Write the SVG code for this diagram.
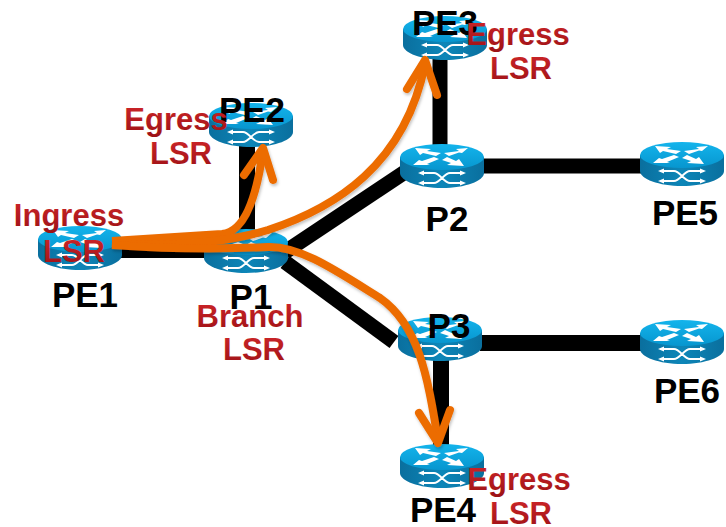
<svg xmlns="http://www.w3.org/2000/svg" width="726" height="527" viewBox="0 0 726 527">
<style>
text{font-family:"Liberation Sans",Arial,sans-serif;font-weight:700;text-anchor:middle}
.n{font-size:35px;fill:#000}
.r{font-size:31px;fill:url(#red)}
.link{stroke:#000;stroke-width:15;fill:none}
.lsp{stroke:#ec6c00;stroke-width:8;fill:none;stroke-linejoin:round}
.head{stroke-linecap:round}
.w{fill:none;stroke:#fff;stroke-width:1.8}
.wf{fill:#fff}
</style>
<defs>
<linearGradient id="red" x1="0" y1="0" x2="0" y2="1"><stop offset="0" stop-color="#d0262a"/><stop offset="1" stop-color="#9c1116"/></linearGradient>
<linearGradient id="side" x1="0" y1="0" x2="1" y2="0"><stop offset="0" stop-color="#0a6f9e"/><stop offset=".5" stop-color="#0d86b8"/><stop offset="1" stop-color="#0a6f9e"/></linearGradient>
<linearGradient id="top" x1="0" y1="0" x2="0" y2="1"><stop offset="0" stop-color="#14b4ec"/><stop offset="1" stop-color="#0796cf"/></linearGradient>
<filter id="sh" x="-10%" y="-10%" width="120%" height="120%"><feDropShadow dx="1" dy="2" stdDeviation="1.5" flood-color="#000" flood-opacity=".25"/></filter>
<g id="router">
<path d="M0,13V29C0,37 19,44 42,44S84,37 84,29V13Z" fill="url(#side)"/>
<ellipse cx="42" cy="13" rx="42" ry="13" fill="url(#top)"/>
<g class="wf">
<path d="M15,4L31,5L27,7L41,9L36,12L23,9L20,11Z"/>
<path d="M68,4L56,5L59,7L44,9L49,12L59,8.500L62,9Z"/>
<path d="M13,21L19,16L22,17L34,13L39,15L27,20L30,21Z"/>
<path d="M64,22L47,21L51,19L42,16L47,13L56,17L59,15Z"/>
</g>
<path class="w" d="M24,29H34C40,29 44,39 50,39H60M24,39H34C40,39 44,29 50,29H60"/>
<path class="wf" d="M24,26.500L18,29L24,31.500ZM60,26.500L66,29L60,31.500ZM24,36.500L18,39L24,41.500ZM60,36.500L66,39L60,41.500Z"/>
</g>
</defs>
<g id="connectors">
<path class="link" d="M120,252H210" style="stroke-width:12"/>
<path class="link" d="M247,130V240" style="stroke-width:16"/>
<path class="link" d="M285,252L408,170"/>
<path class="link" d="M285,262L394,342"/>
<path class="link" d="M440,55V150"/>
<path class="link" d="M480,166H645"/>
<path class="link" d="M480,343H645" style="stroke-width:16"/>
<path class="link" d="M441,355V450" style="stroke-width:16"/>
</g>
<g id="PE1"><use href="#router" x="38" y="226"/><text class="n" x="85" y="307">PE1</text></g>
<g id="P1"><use href="#router" x="204" y="229"/><text class="n" x="251" y="309">P1</text></g>
<g id="PE2"><use href="#router" x="209" y="103"/><text class="n" x="252" y="122">PE2</text></g>
<g id="PE3"><use href="#router" x="403" y="16"/><text class="n" x="445" y="35">PE3</text></g>
<g id="P2"><use href="#router" x="400" y="144"/><text class="n" x="447" y="231">P2</text></g>
<g id="PE5"><use href="#router" x="640" y="142"/><text class="n" x="685" y="225">PE5</text></g>
<g id="P3"><use href="#router" x="398" y="317"/><text class="n" x="449" y="338">P3</text></g>
<g id="PE6"><use href="#router" x="640" y="320"/><text class="n" x="687" y="403">PE6</text></g>
<g id="PE4"><use href="#router" x="400" y="444"/><text class="n" x="443" y="522">PE4</text></g>
<g id="lsp-paths" filter="url(#sh)">
<path class="lsp" d="M112,241L222,234C245,232 257,195 263,150"/>
<path class="lsp head" d="M244,175L263,148L273,180"/>
<path class="lsp" d="M112,243C170,247 225,243 268,230C335,208 405,165 425,64"/>
<path class="lsp head" d="M407,89L425,60L437,95"/>
<path class="lsp" d="M112,245C170,249 230,249 268,247C300,246 335,270 380,298C420,326 428,380 438,440"/>
<path class="lsp head" d="M419,413L438,443L450,410"/>
</g>
<g id="labels">
<text class="r" x="176" y="130">Egress</text><text class="r" x="181" y="164">LSR</text>
<text class="r" x="69" y="226">Ingress</text><text class="r" x="74" y="262">LSR</text>
<text class="r" x="250" y="327">Branch</text><text class="r" x="254" y="360">LSR</text>
<text class="r" x="518" y="45">Egress</text><text class="r" x="521" y="79">LSR</text>
<text class="r" x="519" y="490">Egress</text><text class="r" x="521" y="524">LSR</text>
</g>
</svg>
